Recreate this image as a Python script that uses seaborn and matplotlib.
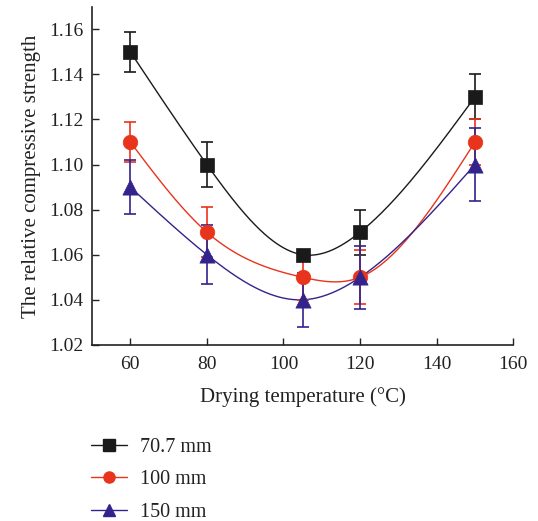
import numpy as np
import pandas as pd
import matplotlib
matplotlib.use("Agg")
import matplotlib.pyplot as plt
import seaborn as sns
from matplotlib.lines import Line2D

temps = [60, 80, 105, 120, 150]
labels = ["70.7 mm", "100 mm", "150 mm"]
vals_707 = [1.15, 1.10, 1.06, 1.07, 1.13]
vals_100 = [1.11, 1.07, 1.05, 1.05, 1.11]
vals_150 = [1.09, 1.06, 1.04, 1.05, 1.10]
err_707 = [0.009, 0.010, 0.002, 0.010, 0.010]
err_100 = [0.009, 0.011, 0.010, 0.012, 0.010]
err_150 = [0.012, 0.013, 0.012, 0.014, 0.016]
xticks = [60, 80, 100, 120, 140, 160]
yticks = [1.02, 1.04, 1.06, 1.08, 1.10, 1.12, 1.14, 1.16]

colors = ["#1a1a1a", "#e8341c", "#33238c"]
markers = ["s", "o", "^"]


def natural_spline(x, y, n=300):
    x = np.asarray(x, float)
    y = np.asarray(y, float)
    k = len(x)
    h = np.diff(x)
    A = np.zeros((k, k))
    b = np.zeros(k)
    A[0, 0] = 1
    A[-1, -1] = 1
    for i in range(1, k - 1):
        A[i, i - 1] = h[i - 1]
        A[i, i] = 2 * (h[i - 1] + h[i])
        A[i, i + 1] = h[i]
        b[i] = 3 * ((y[i + 1] - y[i]) / h[i] - (y[i] - y[i - 1]) / h[i - 1])
    c = np.linalg.solve(A, b)
    xs = np.linspace(x[0], x[-1], n)
    ys = np.empty_like(xs)
    for j, xv in enumerate(xs):
        i = min(np.searchsorted(x, xv, side="right") - 1, k - 2)
        d = xv - x[i]
        bi = (y[i + 1] - y[i]) / h[i] - h[i] * (2 * c[i] + c[i + 1]) / 3
        di = (c[i + 1] - c[i]) / (3 * h[i])
        ys[j] = y[i] + bi * d + c[i] * d ** 2 + di * d ** 3
    return xs, ys


sns.set_style("ticks")
plt.rcParams["font.family"] = ["Liberation Serif", "DejaVu Serif"]

fig = plt.figure(figsize=(5.38, 5.21), dpi=100)
ax = fig.add_axes([0.171, 0.338, 0.783, 0.649])

series = [vals_707, vals_100, vals_150]
errs = [err_707, err_100, err_150]
for lab, v, e, col, mk in zip(labels, series, errs, colors, markers):
    xs, ys = natural_spline(temps, v)
    sns.lineplot(x=xs, y=ys, color=col, lw=1.0, ax=ax, zorder=2)
    ax.errorbar(temps, v, yerr=e, fmt="none", ecolor=col, elinewidth=1.2,
                capsize=4, capthick=1.2, zorder=3)
    df = pd.DataFrame({"t": temps, "v": v})
    sns.scatterplot(data=df, x="t", y="v", marker=mk, color=col,
                    s=110 if mk != "^" else 120,
                    edgecolor=col, linewidth=0.5, ax=ax, zorder=4)

ax.set_xlim(50, 160)
ax.set_ylim(1.02, 1.17)
ax.set_xticks(xticks)
ax.set_yticks(yticks)
ax.set_yticklabels([f"{t:.2f}" for t in yticks])
ax.tick_params(direction="in", length=5, width=1, labelsize=14, colors="#222222",
               pad=6)
ax.tick_params(axis="x", pad=8)
for s in ["top", "right"]:
    ax.spines[s].set_visible(False)
for s in ["left", "bottom"]:
    ax.spines[s].set_linewidth(1.2)
    ax.spines[s].set_color("#222222")
ax.set_xlabel("Drying temperature (°C)", fontsize=15, color="#222222", labelpad=10)
ax.set_ylabel("The relative compressive strength", fontsize=15, color="#222222",
              labelpad=6)

handles = [Line2D([0], [0], color=c, marker=m, lw=1.0, markersize=8)
           for c, m in zip(colors, markers)]
fig.legend(handles, labels, loc="lower left", bbox_to_anchor=(0.136, -0.036),
           frameon=False, fontsize=14.5, handlelength=1.75, labelspacing=0.66,
           handletextpad=0.65, labelcolor="#222222")

fig.savefig("out.png", dpi=100)
